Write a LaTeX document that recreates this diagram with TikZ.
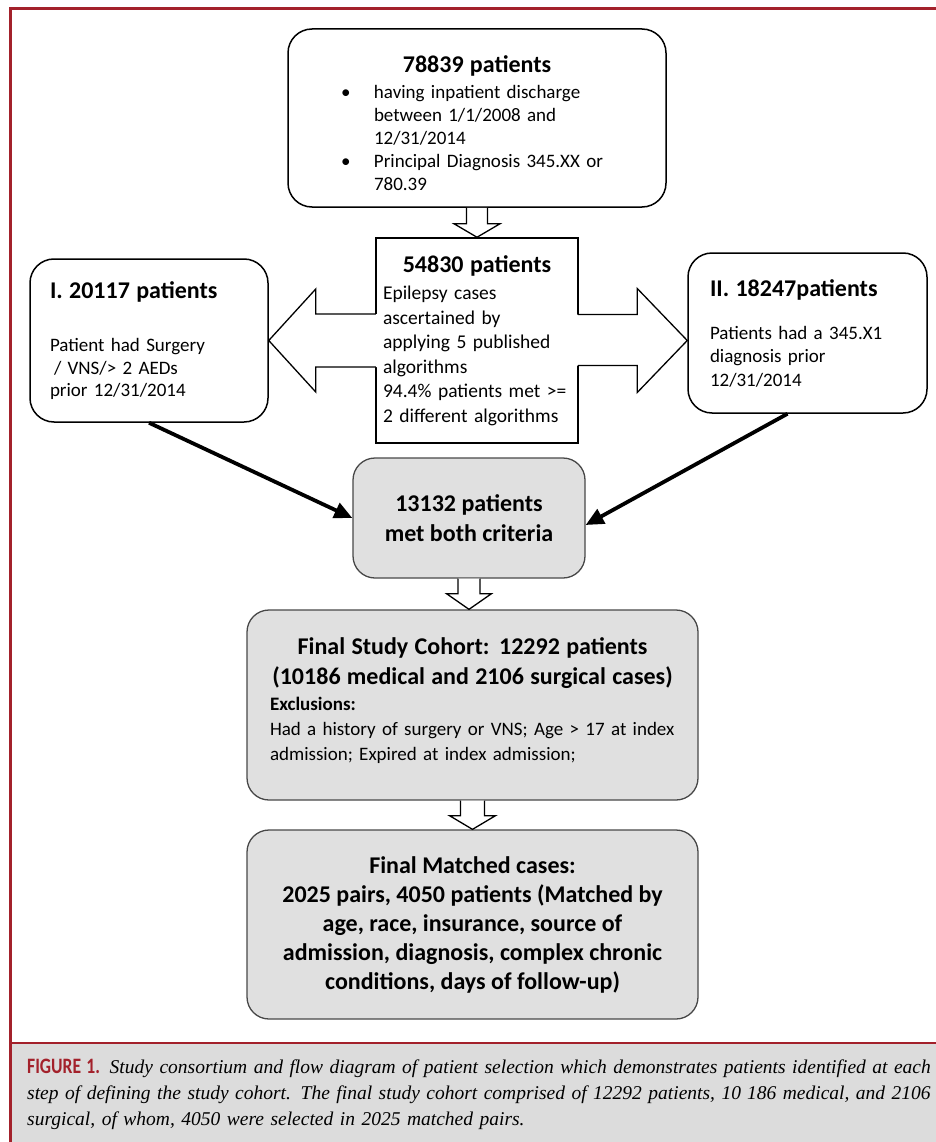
\documentclass[tikz,border=0pt]{standalone}
\usepackage{fontspec}
\setmainfont{Carlito}
\newfontfamily\capfont{Liberation Serif}
\usetikzlibrary{calc,arrows.meta}
\definecolor{figred}{HTML}{A3212B}
\definecolor{capgray}{HTML}{DCDCDC}
\definecolor{boxgray}{HTML}{E0E0E0}
\definecolor{edgegray}{HTML}{484848}
\newcommand\boxtitle{\fontsize{24}{30}\selectfont\bfseries}
\newcommand\figfont{\normalfont\fontsize{22}{26}\selectfont\bfseries\color{figred}}

\begin{document}
\begin{tikzpicture}[
    x=1pt, y=-1pt,
    wbox/.style={draw=black, line width=1.5pt, fill=white, rounded corners=24pt, inner sep=0pt},
    sbox/.style={draw=black, line width=1.5pt, fill=white, inner sep=0pt},
    gbox/.style={draw=edgegray, line width=1.3pt, fill=boxgray, rounded corners=22pt, inner sep=0pt},
    hollow/.style={draw=black, line width=1.3pt, fill=white, line join=miter},
    link/.style={line width=3.8pt, -{Triangle[length=18pt,width=16pt]}}]
  \useasboundingbox (0,0) rectangle (936,1142);
  % frame and caption strip
  \fill[capgray] (10,1043) rectangle (936,1142);
  \draw[figred, line width=1.3pt] (10,1043) -- (936,1043);
  \draw[figred, line width=3pt] (10,1142) -- (10,9) -- (936,9);
  \node[anchor=north west, inner sep=0pt, text width=920pt, align=left,
        font=\capfont\itshape\fontsize{19.5}{26}\selectfont] (caption) at (27,1059)
    {{\figfont\scalebox{0.8}[1]{FIGURE 1.}}\enspace Study consortium and flow diagram of patient selection which demonstrates patients identified at each\\
     step of defining the study cohort. The final study cohort comprised of 12292 patients, 10\hspace{6pt}186 medical, and 2106\\
     surgical, of whom, 4050 were selected in 2025 matched pairs.};
  % boxes
  \node[wbox, minimum width=378pt, text height=44pt, text depth=134pt, text width=340pt, align=center,
        font=\fontsize{19}{23}\selectfont] (start) at (477,118)
    {{\boxtitle 78839 patients}\\[3pt]
     \begin{tabular}[t]{@{}p{26pt}@{}p{232pt}@{}}
       \hspace*{-7pt}\textbullet & having inpatient discharge\newline between 1/1/2008 and\newline 12/31/2014\\
       \hspace*{-7pt}\textbullet & Principal Diagnosis 345.XX or\newline 780.39
     \end{tabular}};
  \node[sbox, minimum width=202pt, minimum height=205pt, text width=188pt, align=left,
        font=\fontsize{19.5}{24.5}\selectfont] (mid) at (477,340.5)
    {\makebox[188pt]{\boxtitle 54830 patients}\\[3pt]
     Epilepsy cases\\ ascertained by\\ applying 5 published\\ algorithms\\
     94.4\% patients met >=\\ 2 different algorithms};
  \node[wbox, minimum width=238pt, minimum height=163pt, text width=198pt, align=left,
        font=\fontsize{19}{22.5}\selectfont] (lbox) at (149,340.5)
    {{\boxtitle I. 20117 patients}\\[31pt]
     Patient had Surgery\\ \hspace*{4pt}/ VNS/> 2 AEDs\\ prior 12/31/2014};
  \node[wbox, minimum width=239pt, minimum height=160pt, text width=195pt, align=left,
        font=\fontsize{19}{23.5}\selectfont] (rbox) at (807.5,333)
    {{\boxtitle II. 18247patients}\\[19.5pt]
     Patients had a 345.X1\\ diagnosis prior\\ 12/31/2014};
  \node[gbox, minimum width=232pt, minimum height=120pt, align=center, font=\boxtitle] (crit) at (469,518)
    {13132 patients\\ met both criteria};
  \node[gbox, minimum width=451pt, text height=44pt, text depth=146pt, text width=405pt, align=left,
        font=\fontsize{19}{25}\selectfont] (cohort) at (472.5,705)
    {\makebox[405pt]{\boxtitle Final Study Cohort: 12292 patients}\\[5pt]
     \makebox[405pt]{\boxtitle (10186 medical and 2106 surgical cases)}\\[1pt]
     \textbf{Exclusions:}\\
     Had a history of surgery or VNS; Age > 17 at index\\
     admission; Expired at index admission;};
  \node[gbox, minimum width=451pt, minimum height=189pt, align=center,
        font=\fontsize{24}{29}\selectfont\bfseries] (match) at (472.5,924.5)
    {Final Matched cases:\\ 2025 pairs, 4050 patients (Matched by\\ age, race, insurance, source of\\
     admission, diagnosis, complex chronic\\ conditions, days of follow-up)};
  % block arrows
  \draw[hollow] ($(start.south)+(-10.5,0)$) -- ++(0,16) -- ++(-12.5,0) -- (start.south |- mid.north)
    -- ($(start.south)+(23,16)$) -- ++(-12.5,0) -- ($(start.south)+(10.5,0)$);
  \draw[hollow] ($(crit.south)+(-11,0)$) -- ++(0,15) -- ++(-11.5,0) -- (crit.south |- cohort.north)
    -- ($(crit.south)+(22.5,15)$) -- ++(-11.5,0) -- ($(crit.south)+(11,0)$);
  \draw[hollow] ($(cohort.south)+(-12,0)$) -- ++(0,15) -- ++(-11,0) -- (cohort.south |- match.north)
    -- ($(cohort.south)+(23,15)$) -- ++(-11,0) -- ($(cohort.south)+(12,0)$);
  \coordinate (ltip) at (mid.west -| lbox.east);
  \coordinate (rtip) at (mid.east -| rbox.west);
  \fill[white] ($(mid.west)+(2.5,-26.5)$) -- ($(ltip)+(47,-26.5)$) -- ($(ltip)+(47,-51.5)$) -- (ltip)
    -- ($(ltip)+(47,51.5)$) -- ($(ltip)+(47,26.5)$) -- ($(mid.west)+(2.5,26.5)$) -- cycle;
  \draw[hollow, fill=none] ($(mid.west)+(0.7,-26.5)$) -- ($(ltip)+(47,-26.5)$) -- ($(ltip)+(47,-51.5)$) -- (ltip)
    -- ($(ltip)+(47,51.5)$) -- ($(ltip)+(47,26.5)$) -- ($(mid.west)+(0.7,26.5)$);
  \fill[white] ($(mid.east)+(-2.5,-26)$) -- ($(rtip)+(-50,-26)$) -- ($(rtip)+(-50,-52)$) -- (rtip)
    -- ($(rtip)+(-50,52)$) -- ($(rtip)+(-50,25)$) -- ($(mid.east)+(-2.5,25)$) -- cycle;
  \draw[hollow, fill=none] ($(mid.east)+(-0.7,-26)$) -- ($(rtip)+(-50,-26)$) -- ($(rtip)+(-50,-52)$) -- (rtip)
    -- ($(rtip)+(-50,52)$) -- ($(rtip)+(-50,25)$) -- ($(mid.east)+(-0.7,25)$);
  % both criteria
  \draw[link] (lbox.south) -- (crit.west);
  \draw[link] ($(rbox.south)+(-20,0)$) -- ($(crit.east)+(0,7)$);
\end{tikzpicture}
\end{document}
